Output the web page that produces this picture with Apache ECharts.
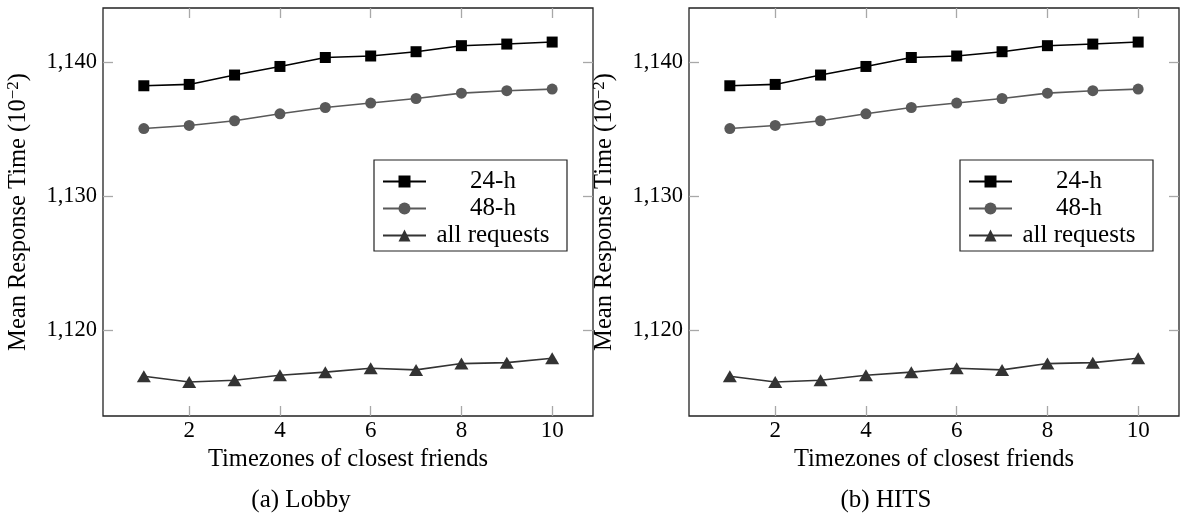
<!DOCTYPE html>
<html>
<head>
<meta charset="utf-8">
<script src="https://cdn.jsdelivr.net/npm/echarts@6/dist/echarts.min.js"></script>
<style>
html,body{margin:0;padding:0;background:#fff;}
#chart{width:1181px;height:517px;}
</style>
</head>
<body>
<div id="chart"></div>
<script>
// ---- data ----
const xValues = [1, 2, 3, 4, 5, 6, 7, 8, 9, 10];
const lobby24h = [1138.26, 1138.36, 1139.06, 1139.70, 1140.37, 1140.48, 1140.80, 1141.25, 1141.37, 1141.52];
const lobby48h = [1135.07, 1135.30, 1135.65, 1136.17, 1136.64, 1136.97, 1137.31, 1137.71, 1137.89, 1138.01];
const lobbyAll = [1116.60, 1116.17, 1116.30, 1116.67, 1116.90, 1117.19, 1117.07, 1117.54, 1117.61, 1117.94];
const hits24h = [1138.26, 1138.36, 1139.06, 1139.70, 1140.37, 1140.48, 1140.80, 1141.25, 1141.37, 1141.52];
const hits48h = [1135.07, 1135.30, 1135.65, 1136.17, 1136.64, 1136.97, 1137.31, 1137.71, 1137.89, 1138.01];
const hitsAll = [1116.60, 1116.17, 1116.30, 1116.67, 1116.90, 1117.19, 1117.07, 1117.54, 1117.61, 1117.94];
const seriesNames = ['24-h', '48-h', 'all requests'];
const xTicks = [2, 4, 6, 8, 10];
const yTicks = [1120, 1130, 1140];
const xLabel = 'Timezones of closest friends';
const yLabel = 'Mean Response Time (10{sup|−2})';
const captions = ['(a) Lobby', '(b) HITS'];

// ---- layout / style ----
const FONT = '"Liberation Serif", "DejaVu Serif", serif';
const grids = [
  {left: 103, top: 8, width: 490, height: 408},
  {left: 689, top: 8, width: 490, height: 408}
];
const styles = [
  {color: '#000000', symbol: 'rect', size: 11},
  {color: '#595959', symbol: 'circle', size: 11},
  {color: '#333333', symbol: 'triangle', size: [14, 12]}
];
const X_MIN = 0.1, X_MAX = 10.9, Y_MIN = 1113.63, Y_MAX = 1144.06;
const tickStyle = {show: true, inside: true, length: 10, customValues: null, lineStyle: {color: '#a8a8a8', width: 1.3}};

function pair(v){ return xValues.map((x, i) => [x, v[i]]); }
const datasets = [[lobby24h, lobby48h, lobbyAll], [hits24h, hits48h, hitsAll]];

const xAxis = [], yAxis = [], series = [], legend = [], graphic = [];
grids.forEach((g, gi) => {
  xAxis.push({
    gridIndex: gi, type: 'value', min: X_MIN, max: X_MAX, position: 'bottom',
    axisLine: {show: false}, splitLine: {show: false},
    axisTick: Object.assign({}, tickStyle, {customValues: xTicks}),
    axisLabel: {customValues: xTicks, color: '#000', fontFamily: FONT, fontSize: 23, margin: 3},
    name: xLabel, nameLocation: 'middle', nameGap: 26,
    nameTextStyle: {color: '#000', fontFamily: FONT, fontSize: 24.5}
  });
  xAxis.push({
    gridIndex: gi, type: 'value', min: X_MIN, max: X_MAX, position: 'top',
    axisLine: {show: false}, splitLine: {show: false},
    axisTick: Object.assign({}, tickStyle, {customValues: xTicks}),
    axisLabel: {show: false}
  });
  yAxis.push({
    gridIndex: gi, type: 'value', min: Y_MIN, max: Y_MAX, position: 'left',
    axisLine: {show: false}, splitLine: {show: false},
    axisTick: Object.assign({}, tickStyle, {customValues: yTicks}),
    axisLabel: {customValues: yTicks, color: '#000', fontFamily: FONT, fontSize: 22.5, margin: 6,
      formatter: v => Math.round(v).toLocaleString('en-US')},
    name: yLabel, nameLocation: 'middle', nameGap: 71, nameRotate: 90,
    nameTextStyle: {color: '#000', fontFamily: FONT, fontSize: 24.5,
      rich: {sup: {fontFamily: FONT, fontSize: 17, color: '#000', padding: [0, 0, 10, 0]}}}
  });
  yAxis.push({
    gridIndex: gi, type: 'value', min: Y_MIN, max: Y_MAX, position: 'right',
    axisLine: {show: false}, splitLine: {show: false},
    axisTick: Object.assign({}, tickStyle, {customValues: yTicks}),
    axisLabel: {show: false}
  });
  datasets[gi].forEach((vals, si) => {
    const st = styles[si];
    series.push({
      type: 'line', name: seriesNames[si],
      xAxisIndex: gi * 2, yAxisIndex: gi * 2,
      data: pair(vals), symbol: st.symbol, symbolSize: st.size, showSymbol: true,
      lineStyle: {color: st.color, width: 1.6}, itemStyle: {color: st.color, opacity: 1},
      emphasis: {disabled: true}, animation: false, z: 3 + si
    });
  });
  legend.push({
    show: true, orient: 'vertical', left: g.left + 271, top: 160,
    data: seriesNames, selectedMode: false,
    backgroundColor: '#fff', borderColor: '#222', borderWidth: 1.2,
    padding: [9, 12, 3, 8], itemGap: 2, itemWidth: 43, itemHeight: 15,
    formatter: n => '{c|' + n + '}',
    textStyle: {color: '#000', fontFamily: FONT, fontSize: 25,
      rich: {c: {width: 124, align: 'center', fontFamily: FONT, fontSize: 25, color: '#000', lineHeight: 22}}}
  });
  graphic.push({
    type: 'text', x: gi === 0 ? 301 : 886, y: 500,
    style: {text: captions[gi], textAlign: 'center', textVerticalAlign: 'middle',
      font: '25px ' + FONT, fill: '#000'}
  });
});

const chart = echarts.init(document.getElementById('chart'), null, {renderer: 'canvas'});
chart.setOption({
  animation: false,
  backgroundColor: '#fff',
  grid: grids.map(g => Object.assign({show: true, borderColor: '#222', borderWidth: 1.3, backgroundColor: 'transparent'}, g)),
  xAxis, yAxis, series, legend, graphic
});
</script>
</body>
</html>
